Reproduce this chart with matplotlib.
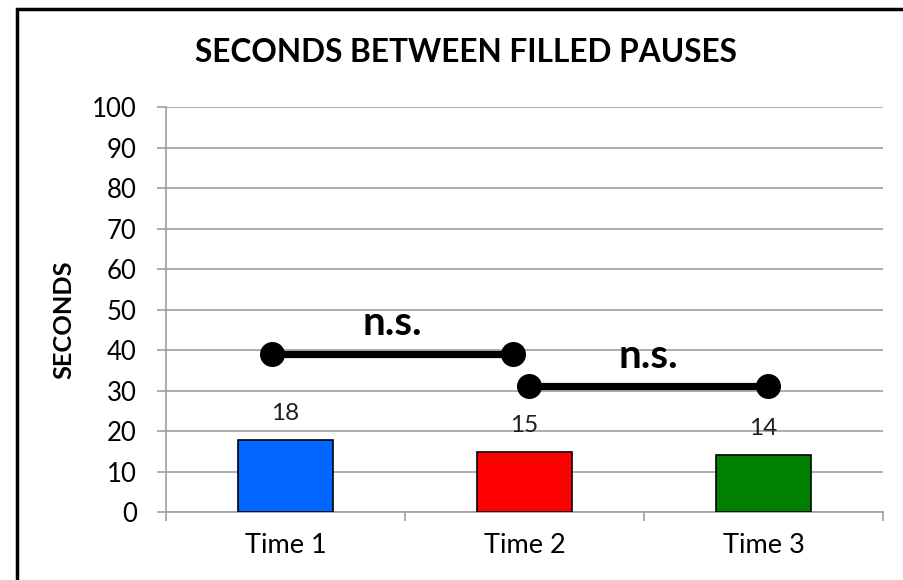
import matplotlib
matplotlib.use('Agg')
import matplotlib.pyplot as plt
from matplotlib.patches import Rectangle

plt.rcParams['font.family'] = ['Lato', 'DejaVu Sans']

categories = ['Time 1', 'Time 2', 'Time 3']
seconds = [17.8, 14.8, 14.1]
labels = ['18', '15', '14']
colors = ['#0066ff', '#ff0000', '#008000']

# significance bars: (x start, x end, y, label)
sig = [(-0.055, 0.95, 39, 'n.s.'), (1.02, 2.02, 31, 'n.s.')]

fig = plt.figure(figsize=(9.04, 5.8), dpi=100)
ax = fig.add_axes([0.1836, 0.1172, 0.7932, 0.6983])

ax.bar(range(3), seconds, width=0.4, color=colors, edgecolor='black', linewidth=1.2, zorder=3)
for i, (v, t) in enumerate(zip(seconds, labels)):
    ax.annotate(t, (i, v), xytext=(0, 19.2), textcoords='offset points', ha='center', va='center',
                fontsize=17.5, color='#202020')

for x0, x1, y, t in sig:
    ax.plot([x0, x1], [y, y], color='black', lw=5.2, marker='o', ms=17, zorder=4,
            solid_capstyle='butt')
    ax.text((x0 + x1) / 2, y + 4.6, t, ha='center', va='baseline', fontsize=29,
            fontweight='bold')

ax.set_xlim(-0.5, 2.5)
ax.set_ylim(0, 100)
ax.set_yticks(range(0, 101, 10))
ax.set_xticks(range(3))
ax.set_xticklabels(categories)
ax.set_xticks([-0.5, 0.5, 1.5, 2.5], minor=True)
ax.tick_params(axis='x', which='major', length=0, labelsize=19.5, pad=15)
ax.tick_params(axis='x', which='minor', length=6.5, color='#a0a0a0', width=1.2)
ax.tick_params(axis='y', length=6.5, color='#a0a0a0', width=1.2, labelsize=18.5, pad=14.5)
ax.yaxis.grid(True, color='#a0a0a0', lw=1.2, zorder=0)
for s in ['top', 'right']:
    ax.spines[s].set_visible(False)
for s in ['left', 'bottom']:
    ax.spines[s].set_color('#a0a0a0')
    ax.spines[s].set_linewidth(1.2)

ax.set_ylabel('SECONDS', fontsize=18.3, fontweight='bold')
ax.yaxis.set_label_coords(-0.127, 0.474)
fig.text(0.515, 0.909, 'SECONDS BETWEEN FILLED PAUSES', ha='center', va='center',
         fontsize=22.8, fontweight='bold')

# outer frame (runs off the right and bottom edges)
fig.patches.append(Rectangle((17 / 904, -0.05), 1.2, 1 - 9 / 580 + 0.05,
                             transform=fig.transFigure, fill=False, lw=2.5, ec='black'))

fig.savefig('out.png', dpi=100)
